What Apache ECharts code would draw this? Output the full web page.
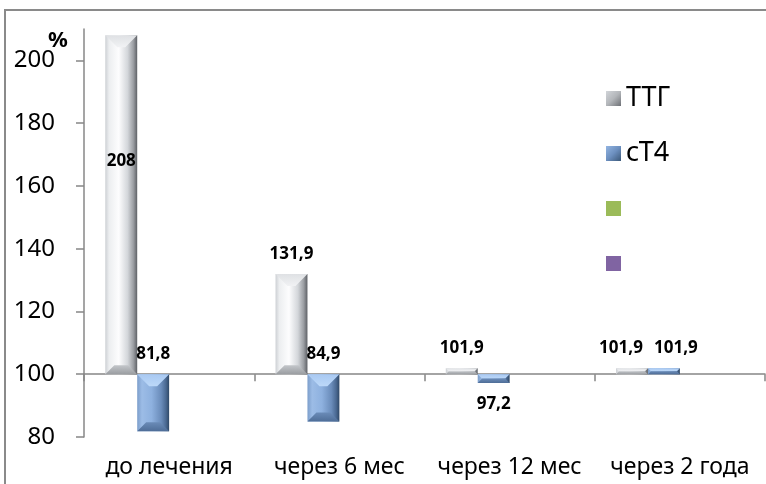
<!DOCTYPE html>
<html>
<head>
<meta charset="utf-8">
<script src="https://cdn.jsdelivr.net/npm/echarts@6/dist/echarts.min.js"></script>
<style>
  html, body { margin: 0; padding: 0; background: #fff; }
  #chart { width: 766px; height: 484px; }
</style>
</head>
<body>
<div id="chart"></div>
<script>
// Hormone levels relative to baseline (%), by treatment stage
const categories = ['до лечения', 'через 6 мес', 'через 12 мес', 'через 2 года'];
const ttgValues = [208, 131.9, 101.9, 101.9];
const t4Values = [81.8, 84.9, 97.2, 101.9];
const seriesNames = ['ТТГ', 'сТ4', 'Ряд3', 'Ряд4'];
const yTicks = [80, 100, 120, 140, 160, 180, 200];
const yMin = 80;
const yMax = 210;
const baseline = 100;

// where each value label sits relative to its bar
const ttgLabelPlace = ['inside', 'above', 'above', 'above'];
const t4LabelPlace = ['above', 'above', 'below', 'above'];
const ttgLabelShift = [0, 0, 0, -11];
const t4LabelShift = [0, 0, 0, 12];

const FONT = '"Noto Sans", "DejaVu Sans", sans-serif';
const AXIS_GREY = '#878787';
const SLOT_COUNT = 4;
const GROUP_RATIO = 0.75; // share of the category band taken by the bar group

const G = echarts.graphic;
const greyLook = {
  side: () => new G.LinearGradient(0, 0, 1, 0, [
    { offset: 0, color: '#cdd0d4' }, { offset: 0.12, color: '#eceef0' },
    { offset: 0.42, color: '#fdfdfe' }, { offset: 0.7, color: '#d3d6da' },
    { offset: 0.88, color: '#9b9ea3' }, { offset: 1, color: '#5e6166' }
  ]),
  top: () => new G.LinearGradient(0, 0, 0, 1, [
    { offset: 0, color: '#dfe1e4' }, { offset: 1, color: '#f1f2f4' }
  ]),
  bottom: () => new G.LinearGradient(0, 0, 0, 1, [
    { offset: 0, color: '#c3c6ca' }, { offset: 1, color: '#9a9da1' }
  ]),
  icon: () => new G.LinearGradient(0, 0, 1, 1, [
    { offset: 0, color: '#d2d5d9' }, { offset: 0.5, color: '#b3b6ba' }, { offset: 1, color: '#6e7176' }
  ])
};
const blueLook = {
  side: () => new G.LinearGradient(0, 0, 1, 0, [
    { offset: 0, color: '#7c9ecb' }, { offset: 0.15, color: '#9cbce6' },
    { offset: 0.45, color: '#8eb1df' }, { offset: 0.75, color: '#6a8cba' },
    { offset: 0.9, color: '#4a6992' }, { offset: 1, color: '#2f4866' }
  ]),
  top: () => new G.LinearGradient(0, 0, 0, 1, [
    { offset: 0, color: '#a9c9f2' }, { offset: 1, color: '#bcd8f8' }
  ]),
  bottom: () => new G.LinearGradient(0, 0, 0, 1, [
    { offset: 0, color: '#6a8bb7' }, { offset: 1, color: '#4e6d97' }
  ]),
  icon: () => new G.LinearGradient(0, 0, 1, 1, [
    { offset: 0, color: '#93b5e2' }, { offset: 0.5, color: '#6c8fbf' }, { offset: 1, color: '#3b5878' }
  ])
};

function formatValue(v) {
  return String(v).replace('.', ',');
}

// Bevelled bar running from the baseline to the value, with its value label
function bevelBar(slot, look, places, shifts) {
  return function (params, api) {
    const idx = api.value(0);
    const val = api.value(1);
    const band = api.size([1, 0])[0];
    const bw = band * GROUP_RATIO / SLOT_COUNT;
    const hi = api.coord([idx, Math.max(val, baseline)]);
    const lo = api.coord([idx, Math.min(val, baseline)]);
    const cx = hi[0] + (slot - (SLOT_COUNT - 1) / 2) * bw;
    const x0 = cx - bw / 2, x1 = cx + bw / 2;
    const y0 = hi[1], y1 = lo[1];
    const h = Math.max(y1 - y0, 1);
    const b = Math.min(12, h / 2, bw / 2);
    const bb = Math.min(9, h / 2);

    const place = places[params.dataIndex];
    let ty;
    if (place === 'inside') ty = y0 + h * 0.37;
    else if (place === 'below') ty = y1 + 21;
    else ty = y0 - 20;

    return {
      type: 'group',
      children: [
        { type: 'rect', shape: { x: x0, y: y0, width: bw, height: h }, style: { fill: look.side() } },
        { type: 'polygon', shape: { points: [[x0, y0], [x1, y0], [x1 - b, y0 + b], [x0 + b, y0 + b]] },
          style: { fill: look.top() } },
        { type: 'polygon', shape: { points: [[x0, y1], [x1, y1], [x1 - bb, y1 - bb], [x0 + bb, y1 - bb]] },
          style: { fill: look.bottom() } },
        { type: 'text', z2: 10, style: {
            text: formatValue(val), x: cx + shifts[params.dataIndex], y: ty,
            align: 'center', verticalAlign: 'middle',
            fontFamily: FONT, fontWeight: 'bold', fontSize: 17, fill: '#000'
        } }
      ]
    };
  };
}

const chart = echarts.init(document.getElementById('chart'), null, { renderer: 'canvas' });

const option = {
  animation: false,
  backgroundColor: '#fff',
  grid: { left: 84, right: 1, top: 29, bottom: 47, outerBoundsMode: 'none' },
  graphic: [
    { type: 'rect', shape: { x: 5, y: 10, width: 900, height: 600 },
      style: { fill: 'none', stroke: '#8a8a8a', lineWidth: 2 }, z: -1 },
    { type: 'text', left: 48, top: 30,
      style: { text: '%', font: 'bold 22px ' + FONT, fill: '#000' } }
  ],
  legend: {
    orient: 'vertical',
    left: 601,
    top: 80,
    itemWidth: 15,
    itemHeight: 15,
    itemGap: 28,
    itemTextGap: 20,
    icon: 'rect',
    selectedMode: false,
    data: [
      { name: seriesNames[0], itemStyle: { color: greyLook.icon() } },
      { name: seriesNames[1], itemStyle: { color: blueLook.icon() } },
      { name: seriesNames[2] },
      { name: seriesNames[3] }
    ],
    formatter: name => (name === seriesNames[0] || name === seriesNames[1]) ? name : ' ',
    textStyle: { fontFamily: FONT, fontSize: 27, lineHeight: 27, color: '#000' }
  },
  xAxis: [
    {
      type: 'category',
      data: categories,
      axisLine: { show: false },
      axisTick: { show: false },
      axisLabel: { fontFamily: FONT, fontSize: 23, color: '#000', margin: 19, interval: 0 }
    },
    {
      type: 'category',
      data: categories,
      position: 'bottom',
      axisLine: { show: true, onZero: false, lineStyle: { color: AXIS_GREY, width: 1.5 } },
      axisTick: { show: true, length: 7, lineStyle: { color: AXIS_GREY, width: 1.5 } },
      axisLabel: { show: false }
    }
  ],
  yAxis: {
    type: 'value',
    min: yMin,
    max: yMax,
    interval: 20,
    splitLine: { show: false },
    axisLine: { show: true, lineStyle: { color: AXIS_GREY, width: 1.5 } },
    axisTick: { show: true, length: 8, customValues: yTicks, lineStyle: { color: AXIS_GREY, width: 1.5 } },
    axisLabel: { customValues: yTicks, fontFamily: FONT, fontSize: 24, color: '#000', margin: 29 }
  },
  series: [
    { name: seriesNames[0], type: 'custom', data: ttgValues.map((v, i) => [i, v]),
      encode: { x: 0, y: 1 }, itemStyle: { color: '#b3b6ba' },
      renderItem: bevelBar(0, greyLook, ttgLabelPlace, ttgLabelShift) },
    { name: seriesNames[1], type: 'custom', data: t4Values.map((v, i) => [i, v]),
      encode: { x: 0, y: 1 }, itemStyle: { color: '#6c8fbf' },
      renderItem: bevelBar(1, blueLook, t4LabelPlace, t4LabelShift) },
    { name: seriesNames[2], type: 'custom', data: [], itemStyle: { color: '#9bbb59' },
      renderItem: () => null },
    { name: seriesNames[3], type: 'custom', data: [], itemStyle: { color: '#8064a2' },
      renderItem: () => null }
  ]
};

chart.setOption(option);

// lift the second category axis up to the baseline value
const yAt = v => chart.convertToPixel({ yAxisIndex: 0 }, v);
chart.setOption({ xAxis: [{}, { offset: yAt(baseline) - yAt(yMin) }] });
</script>
</body>
</html>
